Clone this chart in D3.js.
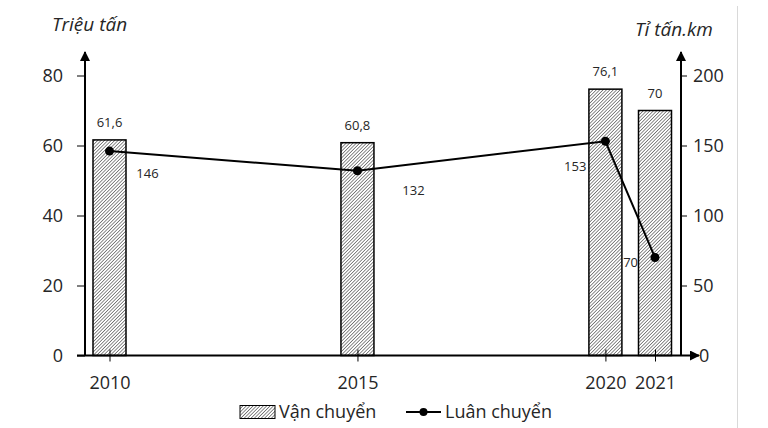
<!DOCTYPE html>
<html><head><meta charset="utf-8">
<script src="https://cdn.jsdelivr.net/npm/d3@7"></script>
<style>body{margin:0;background:#fff}svg{display:block}text{font-family:"Open Sans",sans-serif;fill:#262626}</style>
</head><body>
<svg id="c" width="768" height="428"></svg>
<script>
const years = [2010, 2015, 2020, 2021];
const vanChuyen = [61.6, 60.8, 76.1, 70];
const luanChuyen = [146, 132, 153, 70];
const vanLabels = ["61,6", "60,8", "76,1", "70"];
const luanLabels = ["146", "132", "153", "70"];
const leftTicks = [0, 20, 40, 60, 80];
const rightTicks = [0, 50, 100, 150, 200];

const svg = d3.select("#c");
const x = d3.scaleLinear().domain([2010, 2021]).range([109.5, 655]);
const yL = d3.scaleLinear().domain([0, 80]).range([355.5, 75.5]);
const yR = d3.scaleLinear().domain([0, 200]).range([355.5, 75.5]);
const axL = 85, axR = 681;

const defs = svg.append("defs");
const pat = defs.append("pattern").attr("id","hatch").attr("patternUnits","userSpaceOnUse")
  .attr("width",2.4).attr("height",2.4).attr("patternTransform","rotate(45)");
pat.append("rect").attr("width",2.4).attr("height",2.4).attr("fill","#fff");
pat.append("line").attr("x1",0).attr("y1",0).attr("x2",0).attr("y2",2.4).attr("stroke","#000").attr("stroke-width",0.9);
const mk = defs.append("marker").attr("id","arr").attr("viewBox","0 0 10 10").attr("refX",9).attr("refY",5)
  .attr("markerWidth",10).attr("markerHeight",10).attr("markerUnits","userSpaceOnUse").attr("orient","auto");
mk.append("path").attr("d","M0,0L10,5L0,10Z").attr("fill","#000");

// right frame line
svg.append("line").attr("x1",737.5).attr("x2",737.5).attr("y1",6).attr("y2",428).attr("stroke","#d9d9d9");

// bars
const bw = 33;
svg.selectAll("rect.bar").data(years).join("rect").attr("class","bar")
  .attr("x",(d)=>x(d)-bw/2).attr("width",bw)
  .attr("y",(d,i)=>yL(vanChuyen[i])).attr("height",(d,i)=>yL(0)-yL(vanChuyen[i]))
  .attr("fill","url(#hatch)").attr("stroke","#000").attr("stroke-width",1.5);

// left axis
const gL = svg.append("g").attr("transform",`translate(${axL},0)`)
  .call(d3.axisLeft(yL).tickValues(leftTicks).tickSize(8).tickPadding(14).tickFormat(d3.format("d")));
gL.select(".domain").remove();
gL.selectAll("line").attr("stroke","#000").attr("stroke-width",1);
gL.selectAll("text").style("font-size","18px").attr("fill","#262626");
svg.append("line").attr("x1",axL).attr("x2",axL).attr("y1",yL(0)).attr("y2",52)
  .attr("stroke","#000").attr("stroke-width",2).attr("marker-end","url(#arr)");

// right axis
const gR = svg.append("g").attr("transform",`translate(${axR},0)`)
  .call(d3.axisRight(yR).tickValues(rightTicks).tickSize(6).tickPadding(6).tickFormat(d3.format("d")));
gR.select(".domain").remove();
gR.selectAll("line").attr("stroke","#000").attr("stroke-width",1);
gR.selectAll("text").style("font-size","18px").attr("fill","#262626");
gR.selectAll(".tick").filter(d=>d===0).select("text").attr("x",18);
gR.selectAll(".tick").filter(d=>d===0).select("line").remove();
svg.append("line").attr("x1",axR).attr("x2",axR).attr("y1",yR(0)).attr("y2",52)
  .attr("stroke","#000").attr("stroke-width",2).attr("marker-end","url(#arr)");

// x axis
const gX = svg.append("g").attr("transform",`translate(0,${yL(0)})`)
  .call(d3.axisBottom(x).tickValues(years).tickSize(6).tickPadding(15).tickFormat(d3.format("d")));
gX.select(".domain").remove();
gX.selectAll("line").attr("y1",-6).attr("stroke","#000").attr("stroke-width",1);
gX.selectAll("text").style("font-size","18px").attr("fill","#262626");
svg.append("line").attr("x1",77).attr("x2",699).attr("y1",yL(0)).attr("y2",yL(0))
  .attr("stroke","#000").attr("stroke-width",2).attr("marker-end","url(#arr)");

// line
const line = d3.line().x((d,i)=>x(years[i])).y(d=>yR(d));
svg.append("path").datum(luanChuyen).attr("d",line).attr("fill","none").attr("stroke","#000").attr("stroke-width",2);
svg.selectAll("circle.pt").data(luanChuyen).join("circle").attr("class","pt")
  .attr("cx",(d,i)=>x(years[i])).attr("cy",d=>yR(d)).attr("r",4.5).attr("fill","#000");

// bar labels
svg.selectAll("text.vl").data(vanChuyen).join("text").attr("class","vl")
  .attr("x",(d,i)=>x(years[i])).attr("y",(d,i)=>yL(d)-13)
  .attr("text-anchor","middle").style("font-size","13px").text((d,i)=>vanLabels[i]);

// line labels
const lOff = [[38,27,"middle"],[56,24,"middle"],[-19,30,"end"],[-17,9,"end"]];
svg.selectAll("text.ll").data(luanChuyen).join("text").attr("class","ll")
  .attr("x",(d,i)=>x(years[i])+lOff[i][0]).attr("y",(d,i)=>yR(d)+lOff[i][1])
  .attr("text-anchor",(d,i)=>lOff[i][2]).style("font-size","13px").text((d,i)=>luanLabels[i]);

// axis titles
svg.append("text").attr("x",52).attr("y",31).style("font-size","19px").style("font-style","italic").text("Triệu tấn");
svg.append("text").attr("x",635).attr("y",36).style("font-size","19px").style("font-style","italic").text("Tỉ tấn.km");

// legend
svg.append("rect").attr("x",240).attr("y",405.5).attr("width",35).attr("height",13)
  .attr("fill","url(#hatch)").attr("stroke","#000").attr("stroke-width",1);
svg.append("text").attr("x",279).attr("y",418).style("font-size","18px").text("Vận chuyển");
svg.append("line").attr("x1",406).attr("x2",441).attr("y1",412).attr("y2",412).attr("stroke","#000").attr("stroke-width",2);
svg.append("circle").attr("cx",423.5).attr("cy",412).attr("r",4).attr("fill","#000");
svg.append("text").attr("x",445).attr("y",418).style("font-size","18px").text("Luân chuyển");
</script>
</body></html>
